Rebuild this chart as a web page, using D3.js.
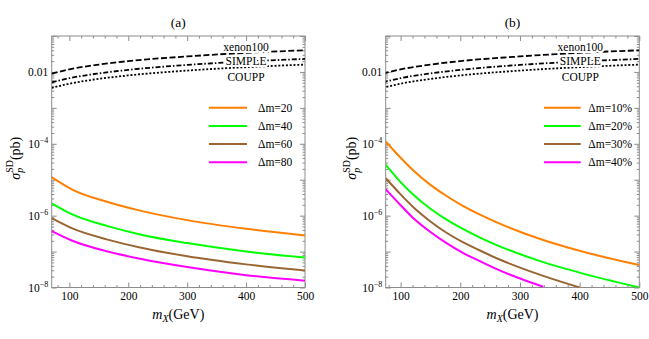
<!DOCTYPE html>
<html>
<head>
<meta charset="utf-8">
<script src="https://cdn.jsdelivr.net/npm/d3@7"></script>
<style>
body { margin: 0; background: #fff; }
text { font-family: "Liberation Serif", "DejaVu Serif", serif; }
</style>
</head>
<body>
<div class="chart"></div>
<script>
// panel (a): fixed mass splitting
const massA = [70, 105, 165, 220, 300, 400, 500];
const dm20 = [1.18e-5, 5.3e-6, 2.4e-6, 1.38e-6, 7.5e-7, 4.3e-7, 2.8e-7];
const dm40 = [2.2e-6, 1.08e-6, 5.1e-7, 3.0e-7, 1.72e-7, 1.0e-7, 6.8e-8];
const dm60 = [8.5e-7, 4.4e-7, 2.15e-7, 1.3e-7, 7.4e-8, 4.4e-8, 2.95e-8];
const dm80 = [3.7e-7, 2.0e-7, 1.0e-7, 6.3e-8, 3.7e-8, 2.2e-8, 1.55e-8];
const labelsA = ["Δm=20", "Δm=40", "Δm=60", "Δm=80"];

// panel (b): relative mass splitting (null = below 1e-8)
const massB = [75, 100, 120, 150, 175, 205, 233, 266, 339, 400, 500];
const dm10p = [1.15e-4, 4.1e-5, 1.9e-5, 7.2e-6, 3.7e-6, 1.85e-6, 1.07e-6, 6.0e-7, 2.1e-7, 1.05e-7, 4.2e-8];
const dm20p = [2.6e-5, 8.6e-6, 4.0e-6, 1.55e-6, 8.1e-7, 4.2e-7, 2.45e-7, 1.4e-7, 5.1e-8, 2.6e-8, 1.0e-8];
const dm30p = [1.1e-5, 3.9e-6, 1.8e-6, 6.9e-7, 3.5e-7, 1.8e-7, 1.07e-7, 6.0e-8, 2.1e-8, 1.0e-8, null];
const dm40p = [5.4e-6, 1.95e-6, 8.9e-7, 3.5e-7, 1.8e-7, 9.1e-8, 5.4e-8, 3.0e-8, 1.05e-8, null, null];
const labelsB = ["Δm=10%", "Δm=20%", "Δm=30%", "Δm=40%"];

// experimental limits (same in both panels)
const massLim = [70, 100, 150, 200, 300, 400, 500];
const xenon100 = [9e-3, 1.18e-2, 1.6e-2, 2.0e-2, 2.7e-2, 3.4e-2, 4.0e-2];
const simple = [5.1e-3, 6.7e-3, 9.1e-3, 1.14e-2, 1.57e-2, 1.95e-2, 2.3e-2];
const coupp = [3.6e-3, 4.7e-3, 6.4e-3, 8.0e-3, 1.09e-2, 1.36e-2, 1.6e-2];

const xMajor = [100, 200, 300, 400, 500];
const xMinor = [80, 120, 140, 160, 180, 220, 240, 260, 280, 320, 340, 360, 380, 420, 440, 460, 480];
const yLabelTicks = [1e-2, 1e-4, 1e-6, 1e-8];

const colors = ["#ff8000", "#00ff00", "#996633", "#ff00ff"];
const frameColor = "#8c8c8c";

const W = 649, H = 339;
const plotTop = 36, plotBottom = 287.5;

const svg = d3.select(".chart")
    .append("svg")
    .attr("width", W)
    .attr("height", H)
    .style("background", "#fff");

const y = d3.scaleLog().domain([1e-8, 1e-1]).range([plotBottom, plotTop]);

const yMajor = d3.range(-8, 0).map(e => Math.pow(10, e));
const yMinor = [];
d3.range(-8, -1).forEach(e => {
    for (let k = 2; k <= 9; k++) yMinor.push(k * Math.pow(10, e));
});

function halo(text) {
    text
      .select(function() {
        return this.parentNode.insertBefore(this.cloneNode(true), this);
      })
      .attr("fill", "none")
      .attr("stroke", "white")
      .attr("stroke-width", 4)
      .attr("stroke-linejoin", "round");
}

function styleAxis(g) {
    g.select(".domain").remove();
    g.attr("font-family", null).attr("font-size", 11.5);
    g.selectAll(".tick line").attr("stroke", frameColor);
    g.selectAll(".tick text").attr("fill", "black");
}

function drawPanel(p) {
    const x = d3.scaleLinear().domain(p.domain).range([p.left, p.right]);
    const g = svg.append("g");

    g.append("clipPath")
        .attr("id", "clip-" + p.name)
        .append("rect")
        .attr("x", p.left)
        .attr("y", plotTop)
        .attr("width", p.right - p.left)
        .attr("height", plotBottom - plotTop);

    // x axes (bottom with labels, top mirrored)
    g.append("g")
        .attr("transform", `translate(0,${plotBottom})`)
        .call(d3.axisBottom(x).tickValues(xMajor).tickSize(-5).tickPadding(4).tickFormat(d3.format("d")))
        .call(styleAxis);
    g.append("g")
        .attr("transform", `translate(0,${plotBottom})`)
        .call(d3.axisBottom(x).tickValues(xMinor).tickSize(-2.5).tickFormat(""))
        .call(styleAxis);
    g.append("g")
        .attr("transform", `translate(0,${plotTop})`)
        .call(d3.axisTop(x).tickValues(xMajor).tickSize(-5).tickFormat(""))
        .call(styleAxis);
    g.append("g")
        .attr("transform", `translate(0,${plotTop})`)
        .call(d3.axisTop(x).tickValues(xMinor).tickSize(-2.5).tickFormat(""))
        .call(styleAxis);

    // y axes
    g.append("g")
        .attr("transform", `translate(${p.left},0)`)
        .call(d3.axisLeft(y).tickValues(yMajor).tickSize(-5).tickFormat(""))
        .call(styleAxis);
    g.append("g")
        .attr("transform", `translate(${p.left},0)`)
        .call(d3.axisLeft(y).tickValues(yMinor).tickSize(-2.5).tickFormat(""))
        .call(styleAxis);
    g.append("g")
        .attr("transform", `translate(${p.right},0)`)
        .call(d3.axisRight(y).tickValues(yMajor).tickSize(-5).tickFormat(""))
        .call(styleAxis);
    g.append("g")
        .attr("transform", `translate(${p.right},0)`)
        .call(d3.axisRight(y).tickValues(yMinor).tickSize(-2.5).tickFormat(""))
        .call(styleAxis);

    const yl = g.append("g")
        .attr("transform", `translate(${p.left},0)`)
        .call(d3.axisLeft(y).tickValues(yLabelTicks).tickSize(0).tickPadding(3.5)
            .tickFormat(d => d === 1e-2 ? "0.01" : "10"))
        .call(styleAxis);
    yl.selectAll(".tick text").each(function(d) {
        if (d === 1e-2) return;
        d3.select(this).append("tspan")
            .attr("font-size", 8)
            .attr("dy", -5)
            .text("\u2212" + Math.round(-Math.log10(d)));
    });

    // frame
    g.append("rect")
        .attr("x", p.left)
        .attr("y", plotTop)
        .attr("width", p.right - p.left)
        .attr("height", plotBottom - plotTop)
        .attr("fill", "none")
        .attr("stroke", frameColor)
        .attr("stroke-width", 1);

    const line = d3.line()
        .defined(d => d.v != null)
        .x(d => x(d.m))
        .y(d => y(d.v))
        .curve(d3.curveMonotoneX);

    const plot = g.append("g").attr("clip-path", `url(#clip-${p.name})`);

    // limit curves
    const limits = [
        { v: xenon100, dash: "6,2.5" },
        { v: simple, dash: "5,2,1.5,2" },
        { v: coupp, dash: "2,1.8" }
    ];
    limits.forEach(l => {
        plot.append("path")
            .datum(massLim.map((m, i) => ({ m: m, v: l.v[i] })))
            .attr("fill", "none")
            .attr("stroke", "black")
            .attr("stroke-width", 1.8)
            .attr("stroke-dasharray", l.dash)
            .attr("d", line);
    });

    p.series.forEach((s, i) => {
        plot.append("path")
            .datum(p.mass.map((m, j) => ({ m: m, v: s[j] })))
            .attr("fill", "none")
            .attr("stroke", colors[i])
            .attr("stroke-width", 2)
            .attr("d", line);
    });

    // limit labels
    const limNames = ["xenon100", "SIMPLE", "COUPP"];
    const limY = [50.5, 65, 80.5];
    limNames.forEach((n, i) => {
        g.append("text")
            .text(n)
            .attr("x", p.right - 59)
            .attr("y", limY[i])
            .attr("text-anchor", "middle")
            .attr("font-size", 11.5)
            .call(halo);
    });

    // legend
    p.labels.forEach((lab, i) => {
        const ly = 107.7 + i * 18.2;
        g.append("line")
            .attr("x1", p.legX0)
            .attr("x2", p.legX1)
            .attr("y1", ly)
            .attr("y2", ly)
            .attr("stroke", colors[i])
            .attr("stroke-width", 2);
        g.append("text")
            .text(lab)
            .attr("x", p.legText)
            .attr("y", ly + 4)
            .attr("font-size", 11.5);
    });

    // title
    g.append("text")
        .text(p.title)
        .attr("x", (p.left + p.right) / 2)
        .attr("y", 27)
        .attr("text-anchor", "middle")
        .attr("font-size", 13.5);

    // x label
    const xt = g.append("text")
        .attr("x", (p.left + p.right) / 2)
        .attr("y", 318.5)
        .attr("text-anchor", "middle")
        .attr("font-size", 14);
    xt.append("tspan").attr("font-style", "italic").text("m");
    xt.append("tspan").attr("font-style", "italic").attr("font-size", 10).attr("dy", 3).text("X");
    xt.append("tspan").attr("dy", -3).text("(GeV)");

    // y label
    const yt = g.append("text")
        .attr("transform", `translate(${p.left - p.yLabOff},${(plotTop + plotBottom) / 2 - 3.5}) rotate(-90)`)
        .attr("text-anchor", "middle")
        .attr("font-size", 14);
    yt.append("tspan").attr("font-style", "italic").text("σ");
    yt.append("tspan").attr("font-style", "italic").attr("font-size", 10).attr("dy", 3.5).text("p");
    yt.append("tspan").attr("font-size", 10).attr("dx", -5).attr("dy", -10).text("SD");
    yt.append("tspan").attr("dy", 6.5).text("(pb)");
}

drawPanel({
    name: "a", title: "(a)", left: 51.7, right: 305, domain: [70, 500],
    mass: massA, series: [dm20, dm40, dm60, dm80], labels: labelsA,
    legX0: 209, legX1: 247, legText: 258, yLabOff: 32.2
});
drawPanel({
    name: "b", title: "(b)", left: 385.7, right: 639.3, domain: [75, 500],
    mass: massB, series: [dm10p, dm20p, dm30p, dm40p], labels: labelsB,
    legX0: 544, legX1: 580.7, legText: 588.3, yLabOff: 29.7
});
</script>
</body>
</html>
